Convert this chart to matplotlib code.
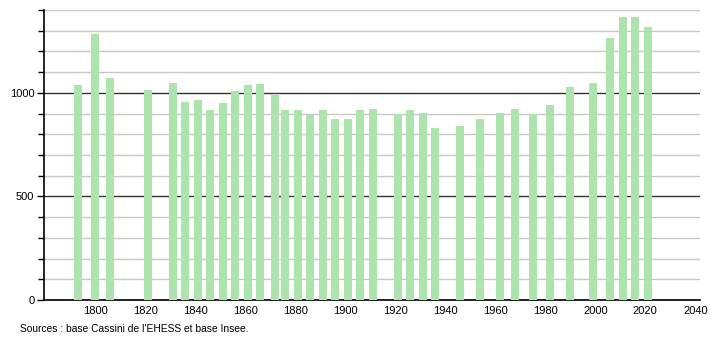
import matplotlib
matplotlib.use("Agg")
import matplotlib.pyplot as plt
from matplotlib.ticker import MultipleLocator

years = [1793, 1800, 1806, 1821, 1831, 1836, 1841, 1846, 1851, 1856, 1861, 1866,
         1872, 1876, 1881, 1886, 1891, 1896, 1901, 1906, 1911, 1921, 1926, 1931,
         1936, 1946, 1954, 1962, 1968, 1975, 1982, 1990, 1999, 2006, 2011, 2016, 2021]
population = [1036, 1283, 1070, 1012, 1049, 958, 965, 917, 953, 1009, 1036, 1045,
              992, 915, 917, 895, 915, 875, 876, 915, 924, 899, 915, 904,
              828, 842, 876, 905, 924, 899, 939, 1029, 1050, 1263, 1365, 1365, 1320]
x_ticks = [1800, 1820, 1840, 1860, 1880, 1900, 1920, 1940, 1960, 1980, 2000, 2020, 2040]
y_ticks = [0, 500, 1000]
source_text = "Sources : base Cassini de l'EHESS et base Insee."

plt.rcParams['font.family'] = ['Liberation Sans', 'DejaVu Sans']

fig = plt.figure(figsize=(7.1, 3.4), dpi=100)
ax = fig.add_axes([44/710, 40/340, 656/710, 290/340])

ax.bar(years, population, width=3.2, color='#ade3ad', zorder=3)

ax.set_xlim(1779.5, 2041.9)
ax.set_ylim(0, 1400)

ax.set_yticks(y_ticks)
ax.yaxis.set_minor_locator(MultipleLocator(100))
ax.set_xticks(x_ticks)

ax.grid(True, which='major', axis='y', color='#333333', linewidth=1.0, zorder=1)
ax.grid(True, which='minor', axis='y', color='#c8c8c8', linewidth=1.0, zorder=1)

for s in ['top', 'right']:
    ax.spines[s].set_visible(False)
ax.spines['left'].set_color('black')
ax.spines['bottom'].set_color('black')
ax.spines['left'].set_linewidth(1.2)
ax.spines['bottom'].set_linewidth(1.2)

ax.tick_params(axis='y', which='major', length=5, width=1, labelsize=8, pad=2)
ax.tick_params(axis='y', which='minor', length=4, width=1)
ax.tick_params(axis='x', which='major', length=0, labelsize=8, pad=4)

fig.text(20/710, 1 - 329/340, source_text, fontsize=7.4, va='center', ha='left')

fig.savefig('out.png', dpi=100)
